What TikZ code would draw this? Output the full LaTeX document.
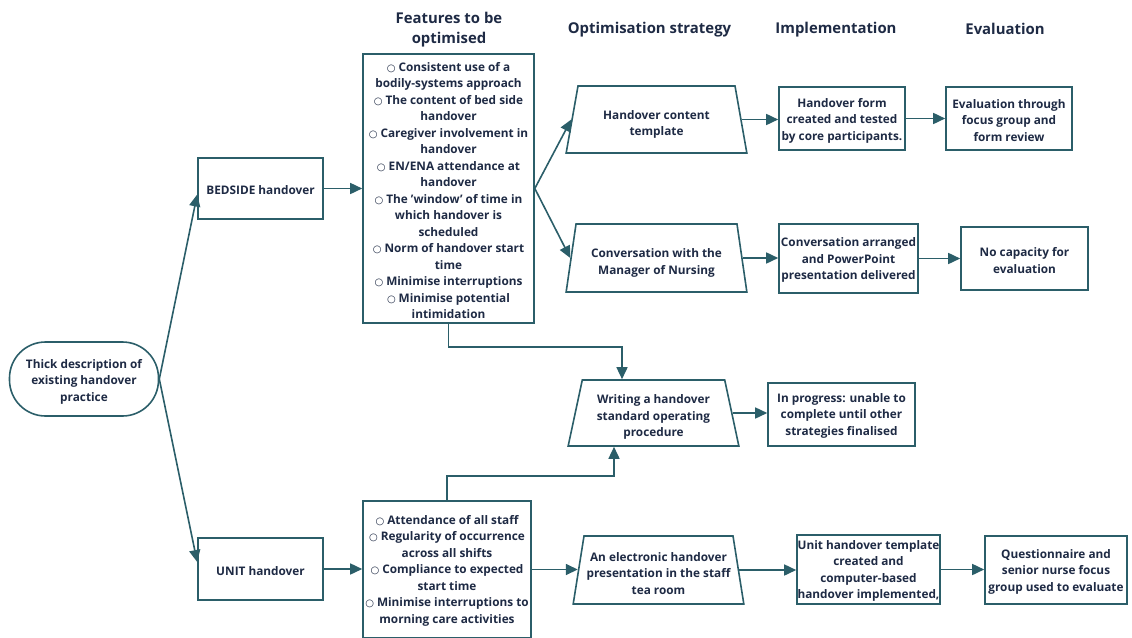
\documentclass[tikz,border=0pt]{standalone}
\usepackage{fontspec}
\setmainfont{Open Sans}
\newfontfamily\symfont{DejaVu Sans}
\usetikzlibrary{shapes.geometric,arrows.meta}

\definecolor{edge}{HTML}{2B5E69}
\definecolor{ink}{HTML}{1E2A44}

% small hollow bullet used in the feature lists
\newcommand{\bul}{{\symfont\fontsize{10}{10}\selectfont ○}\hspace{3pt}}
% first-line strut: a taller first line lowers the text block inside its frame
\newcommand{\lift}[1]{\rule{0pt}{#1}}

\tikzset{
  body/.style={font=\fontsize{11.8}{16.5}\selectfont\bfseries, text=ink, align=center},
  head/.style={font=\fontsize{14.9}{20}\selectfont\bfseries, text=ink, align=center},
  box/.style={body, draw=edge, line width=1.6pt, rectangle, inner sep=0pt},
  trap/.style={body, draw=edge, line width=1.6pt, trapezium, trapezium stretches=true,
    trapezium left angle=78, trapezium right angle=78, inner sep=0pt},
  stadium/.style={body, draw=edge, line width=1.6pt, rounded corners=36pt,
    minimum width=149pt, minimum height=74pt, inner sep=0pt},
  link/.style={draw=edge, line width=1.6pt},
  arr/.style={link, -{Triangle[length=12pt,width=11pt]}},
}

\begin{document}
\begin{tikzpicture}[x=1pt,y=-1pt]
\useasboundingbox (0,0) rectangle (1132,637);

% column headings
\node[head] (hfeat) at (449,30) {Features to be\\optimised};
\node[head] (hstrat) at (649.5,30) {Optimisation strategy};
\node[head] (himpl) at (836,30) {Implementation};
\node[head] (heval) at (1005,29) {Evaluation};

% starting point
\node[stadium] (thick) at (84,379) {\lift{14.5pt}Thick description of\\existing handover\\practice};

% the two handover types
\node[box, minimum width=125pt, minimum height=61pt] (bed) at (260.5,188.5) {\lift{13pt}BEDSIDE handover};
\node[box, minimum width=125pt, minimum height=62pt] (unit) at (260.5,569) {\lift{13pt}UNIT handover};

% features to be optimised
\node[box, minimum width=171pt, minimum height=269pt] (feat1) at (448.5,188.5)
  {\lift{13pt}\bul Consistent use of a\\bodily-systems approach\\
   \bul The content of bed side\\handover\\
   \bul Caregiver involvement in\\handover\\
   \bul EN/ENA attendance at\\handover\\
   \bul The 'window' of time in\\which handover is\\scheduled\\
   \bul Norm of handover start\\time\\
   \bul Minimise interruptions\\
   \bul Minimise potential\\intimidation};
\node[box, minimum width=168pt, minimum height=137pt] (feat2) at (447,569.5)
  {\lift{11pt}\bul Attendance of all staff\\
   \bul Regularity of occurrence\\across all shifts\\
   \bul Compliance to expected\\start time\\
   \bul Minimise interruptions to\\morning care activities};

% optimisation strategies
\node[trap, minimum width=181pt, minimum height=67pt] (t1) at (656.5,119.5) {\lift{18.5pt}Handover content\\template};
\node[trap, minimum width=181pt, minimum height=68pt] (t2) at (656.5,258) {\lift{18.5pt}Conversation with the\\Manager of Nursing};
\node[trap, minimum width=171pt, minimum height=66pt] (t3) at (653.5,413) {\lift{17pt}Writing a handover\\standard operating\\procedure};
\node[trap, minimum width=171pt, minimum height=68pt] (t4) at (658.5,570) {\lift{16pt}An electronic handover\\presentation in the staff\\tea room};

% implementation
\node[box, minimum width=126pt, minimum height=63pt] (i1) at (842,118.5) {\lift{13pt}Handover form\\created and tested\\by core participants.};
\node[box, minimum width=139pt, minimum height=69pt] (i2) at (848.5,258.5) {\lift{12pt}Conversation arranged\\and PowerPoint\\presentation delivered};
\node[box, minimum width=147pt, minimum height=63pt] (i3) at (841.5,414.5) {\lift{11pt}In progress: unable to\\complete until other\\strategies finalised};
\node[box, minimum width=143pt, minimum height=69pt] (i4) at (868.5,569.5) {\lift{12pt}Unit handover template\\created and\\computer-based\\handover implemented,};

% evaluation
\node[box, minimum width=126pt, minimum height=63pt] (e1) at (1009,118.5) {\lift{13pt}Evaluation through\\focus group and\\form review};
\node[box, minimum width=127pt, minimum height=63pt] (e2) at (1024.5,258.5) {\lift{13pt}No capacity for\\evaluation};
\node[box, minimum width=142pt, minimum height=68pt] (e3) at (1056,570) {\lift{12pt}Questionnaire and\\senior nurse focus\\group used to evaluate};

% connectors
\draw[arr] (thick.east) -- ([yshift=-6pt]bed.west);
\draw[arr] (thick.east) -- ([yshift=7pt]unit.west);
\draw[arr] (bed.east) -- (feat1.west);
\draw[arr] (unit.east) -- (unit.east -| feat2.west);
\draw[arr] (feat1.east) -- (t1.west);
\draw[arr] (feat1.east) -- (t2.west);
\draw[arr] (feat1.south) -- (feat1.south |- 0,347) -| ([xshift=-31.5pt]t3.north);
\draw[arr] (feat2.north) -- (feat2.north |- 0,476) -| ([xshift=-39.5pt]t3.south);
\draw[arr] (feat2.east) -- (feat2.east -| t4.west);
\draw[arr] (t1.east) -- (t1.east -| i1.west);
\draw[arr] (t2.east) -- (t2.east -| i2.west);
\draw[arr] (t3.east) -- (t3.east -| i3.west);
\draw[arr] (t4.east) -- (t4.east -| i4.west);
\draw[arr] (i1.east) -- (e1.west);
\draw[arr] (i2.east) -- (e2.west);
\draw[arr] (i4.east) -- (i4.east -| e3.west);
\end{tikzpicture}
\end{document}
